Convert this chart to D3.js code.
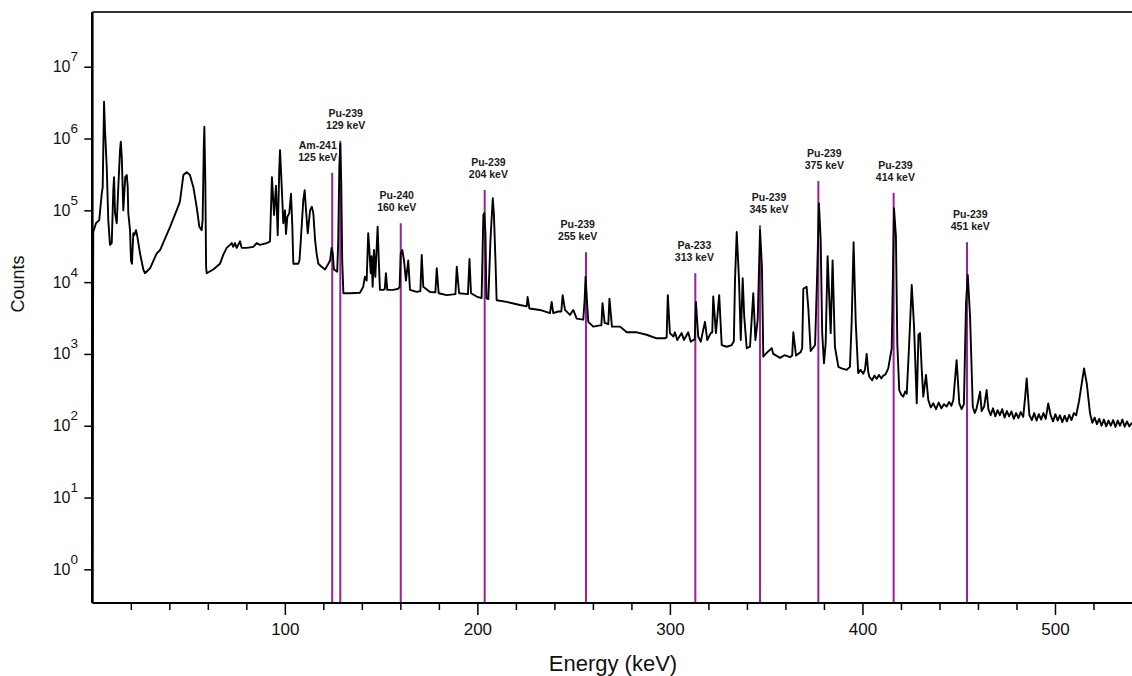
<!DOCTYPE html>
<html>
<head>
<meta charset="utf-8">
<script src="https://cdn.jsdelivr.net/npm/d3@7"></script>
<style>
    body { margin: 0; background: #fff; }
    svg { display: block; }
    .tick line { stroke: #000; stroke-width: 1.5; }
</style>
</head>
<body>
<div id="chart"></div>
<script>
// Gamma spectrum as [energy keV, counts]
var spectrum = [
    [0, 0.35], [0.5, 5.0e4], [1.9, 6.6e4], [3.6, 7.3e4], [4.9, 1.7e5], [5.4, 2.1e5],
    [6.1, 3.25e6], [6.6, 1.3e6], [7.5, 4.0e5], [8.3, 7.3e4], [9.2, 3.3e4], [10.1, 3.5e4],
    [10.9, 1.9e5], [11.3, 2.9e5], [11.8, 9.2e4], [12.7, 6.6e4], [13.5, 2.1e5], [14.4, 6.9e5],
    [14.8, 9.0e5], [15.3, 5.6e5], [16.1, 1.0e5], [17.1, 2.9e5], [17.9, 3.1e5], [18.4, 2.1e5],
    [18.7, 9.1e4], [19.6, 5.3e4], [20.1, 2.0e4], [20.6, 1.8e4], [21.3, 4.8e4], [21.8, 4.5e4],
    [22.7, 5.3e4], [23.4, 4.3e4], [24.8, 2.5e4], [26.5, 1.5e4], [27.4, 1.33e4], [30.0, 1.56e4],
    [33.4, 2.5e4], [35.2, 2.8e4], [40.4, 5.9e4], [43.8, 1.0e5], [45.5, 1.32e5], [47.3, 3.1e5],
    [49.0, 3.4e5], [50.7, 3.1e5], [52.5, 2.1e5], [54.2, 1.12e5], [55.6, 5.9e4], [56.8, 5.3e4],
    [57.3, 7.3e4], [57.9, 7.7e5], [58.2, 1.46e6], [58.7, 2.6e5], [59.1, 1.64e4], [59.4, 1.33e4],
    [62.8, 1.5e4], [66.3, 1.8e4], [68.0, 2.4e4], [69.8, 3.0e4], [71.5, 3.3e4], [72.4, 3.5e4],
    [73.2, 3.1e4], [74.1, 3.5e4], [75.0, 3.0e4], [76.7, 3.7e4], [77.6, 3.0e4], [80.2, 3.0e4],
    [83.6, 3.1e4], [85.4, 3.5e4], [87.1, 3.3e4], [90.6, 3.5e4], [92.3, 3.7e4], [93.3, 2.9e5],
    [94.4, 8.6e4], [95.4, 2.2e5], [96.3, 4.5e4], [97.1, 3.6e5], [97.5, 6.9e5], [98.4, 2.1e5],
    [99.2, 6.6e4], [100.1, 1.0e5], [100.6, 4.7e4], [101.3, 8.1e4], [102.3, 9.1e4], [103.2, 1.7e5],
    [103.9, 5.9e4], [104.4, 1.8e4], [107.0, 1.8e4], [107.6, 2.0e4], [108.2, 3.5e4], [109.6, 1.4e5],
    [110.3, 1.9e5], [111.0, 1.0e5], [111.9, 4.8e4], [113.1, 1.0e5], [114.0, 1.12e5], [114.8, 9.1e4],
    [115.7, 3.9e4], [116.5, 2.5e4], [117.4, 1.8e4], [119.1, 1.64e4], [120.9, 1.5e4], [122.6, 1.8e4],
    [123.5, 2.0e4], [124.3, 3.0e4], [124.9, 2.5e4], [125.5, 1.5e4], [127.2, 1.4e4], [127.7, 3.5e4],
    [128.3, 4.0e5], [128.8, 8.5e5], [129.3, 2.4e5], [129.8, 2.0e4], [130.4, 7.0e3], [133.8, 7.0e3],
    [139.0, 7.1e3], [140.7, 8.6e3], [141.6, 1.19e4], [142.5, 1.05e4], [143.3, 4.8e4], [143.9, 2.8e4],
    [144.6, 1.33e4], [145.1, 2.3e4], [145.6, 8.6e3], [146.3, 2.8e4], [147.0, 1.19e4], [148.2, 5.9e4],
    [148.8, 2.0e4], [149.4, 7.8e3], [151.1, 7.8e3], [151.9, 8.0e3], [152.5, 1.33e4], [153.2, 7.8e3],
    [156.3, 7.8e3], [158.9, 8.1e3], [159.6, 8.5e3], [160.2, 2.5e4], [161.0, 2.8e4], [161.9, 2.0e4],
    [162.9, 1.05e4], [164.1, 2.0e4], [165.0, 7.8e3], [168.5, 7.3e3], [170.4, 7.5e3], [171.1, 2.4e4],
    [171.9, 8.6e3], [175.4, 7.3e3], [178.2, 7.2e3], [178.9, 1.56e4], [179.9, 7.0e3], [184.1, 6.6e3],
    [188.6, 6.8e3], [189.3, 1.64e4], [190.5, 7.0e3], [195.1, 6.8e3], [195.9, 2.1e4], [196.7, 7.0e3],
    [199.6, 6.3e3], [202.2, 6.0e3], [203.1, 8.6e4], [203.6, 9.2e4], [204.2, 4.7e4], [204.7, 6.0e3],
    [205.7, 5.8e3], [206.8, 3.9e4], [208.0, 1.47e5], [208.6, 8.6e4], [209.4, 2.0e4], [210.0, 5.6e3],
    [215.2, 5.3e3], [222.1, 4.8e3], [225.6, 4.6e3], [226.1, 6.2e3], [227.0, 4.3e3], [232.5, 4.1e3],
    [237.7, 3.7e3], [238.6, 5.3e3], [239.4, 3.7e3], [242.0, 3.9e3], [243.6, 3.9e3], [244.3, 6.6e3],
    [245.5, 4.1e3], [248.1, 3.5e3], [249.8, 4.1e3], [251.6, 3.1e3], [255.0, 3.0e3], [255.7, 5.6e3],
    [256.2, 1.19e4], [256.9, 5.6e3], [257.6, 2.8e3], [260.2, 2.4e3], [263.7, 2.5e3], [264.4, 2.5e3],
    [265.0, 5.1e3], [266.1, 2.7e3], [268.0, 2.6e3], [268.6, 5.9e3], [269.9, 2.4e3], [274.1, 2.4e3],
    [277.6, 2.0e3], [282.8, 2.0e3], [287.9, 1.85e3], [293.1, 1.65e3], [297.4, 1.65e3], [298.3, 1.7e3],
    [298.9, 6.6e3], [300.0, 1.95e3], [301.8, 1.75e3], [302.6, 2.0e3], [303.8, 1.56e3], [306.1, 1.95e3],
    [307.3, 1.56e3], [309.5, 2.0e3], [310.8, 1.48e3], [312.1, 1.56e3], [312.9, 1.6e3], [313.5, 5.3e3],
    [314.7, 1.75e3], [316.0, 1.48e3], [318.2, 2.8e3], [319.4, 1.56e3], [321.2, 1.95e3], [322.0, 2.0e3],
    [322.5, 6.3e3], [323.9, 1.95e3], [325.6, 6.6e3], [326.9, 1.33e3], [329.5, 1.26e3], [332.1, 1.33e3],
    [333.2, 1.5e3], [333.8, 1.05e4], [334.7, 5.0e4], [335.9, 1.05e4], [336.8, 1.56e3], [337.8, 1.13e4],
    [338.6, 3.3e3], [339.9, 1.2e3], [341.6, 1.26e3], [343.3, 7.0e3], [344.4, 1.56e3], [345.6, 3.0e3],
    [346.8, 5.3e4], [347.8, 1.64e4], [348.5, 915], [350.5, 1.05e3], [352.9, 1.2e3], [353.7, 1.0e3],
    [355.5, 940], [357.2, 880], [359.5, 960], [362.4, 900], [363.5, 950], [364.1, 2.0e3],
    [365.5, 950], [367.9, 1.06e3], [368.7, 1.2e3], [369.3, 8.1e3], [371.0, 8.6e3], [371.9, 4.3e3],
    [373.1, 1.1e3], [375.4, 1.33e3], [376.5, 1.33e4], [377.4, 1.25e5], [378.3, 3.9e4], [379.1, 1.95e3],
    [380.0, 740], [380.9, 1.4e3], [381.9, 2.3e4], [383.5, 1.95e3], [384.5, 2.0e4], [385.7, 1.26e3],
    [387.5, 660], [389.2, 630], [391.8, 600], [393.5, 660], [394.4, 2.8e3], [395.4, 3.6e4],
    [396.5, 2.8e3], [397.8, 540], [399.0, 600], [400.4, 530], [401.3, 600], [402.2, 1.0e3],
    [403.0, 560], [403.6, 480], [405.0, 430], [406.2, 500], [407.4, 450], [408.6, 510],
    [409.8, 455], [410.8, 500], [412.0, 520], [413.4, 630], [415.2, 1.2e3], [416.4, 1.07e5],
    [417.4, 4.3e4], [418.1, 1.4e3], [419.1, 314], [420.2, 270], [421.2, 254], [422.2, 300],
    [423.0, 280], [424.2, 1.26e3], [425.6, 9.1e3], [426.8, 2.4e3], [428.2, 205], [429.1, 1.85e3],
    [429.9, 1.95e3], [430.8, 600], [431.6, 254], [433.0, 510], [434.2, 228], [435.5, 180],
    [436.8, 205], [438.2, 170], [439.6, 210], [441.0, 175], [442.4, 200], [443.7, 185],
    [445.0, 215], [446.2, 190], [447.2, 228], [448.9, 820], [450.3, 205], [451.5, 170],
    [452.7, 200], [453.8, 5.1e3], [454.7, 1.26e4], [455.9, 3.3e3], [457.3, 184], [458.3, 150],
    [459.3, 175], [461.1, 298], [461.9, 160], [463.2, 185], [464.5, 314], [465.4, 170],
    [466.6, 140], [467.8, 175], [469.0, 135], [470.2, 165], [471.4, 140], [472.6, 170],
    [473.8, 130], [475.0, 160], [476.2, 135], [477.4, 158], [478.6, 125], [479.8, 150],
    [481.0, 128], [482.2, 155], [483.5, 133], [484.5, 250], [485.3, 457], [486.0, 250],
    [486.7, 141], [488.0, 120], [489.2, 150], [490.4, 118], [491.6, 145], [492.8, 122],
    [494.0, 150], [495.2, 125], [496.5, 205], [497.8, 138], [499.0, 115], [500.2, 145],
    [501.4, 118], [502.6, 140], [503.8, 112], [505.0, 138], [506.2, 115], [507.4, 142],
    [508.6, 120], [509.8, 150], [511.0, 140], [512.5, 220], [513.9, 390], [515.1, 630],
    [516.5, 390], [517.5, 220], [518.2, 149], [519.4, 110], [520.6, 130], [521.8, 105],
    [523.0, 125], [524.2, 100], [525.4, 122], [526.6, 98], [527.8, 118], [529.0, 100],
    [530.2, 120], [531.4, 96], [532.6, 118], [533.8, 100], [535.0, 122], [536.2, 97],
    [537.4, 115], [538.6, 98], [540, 110]
];

// Marked lines: nuclide, energy text, where the line sits, how high it reaches, label centre
var nuclides = ['Am-241', 'Pu-239', 'Pu-240', 'Pu-239', 'Pu-239', 'Pa-233', 'Pu-239', 'Pu-239', 'Pu-239', 'Pu-239'];
var lineTexts = ['125 keV', '129 keV', '160 keV', '204 keV', '255 keV', '313 keV', '345 keV', '375 keV', '414 keV', '451 keV'];
var markerEnergy = [124.6, 128.8, 160.2, 203.8, 256.4, 313.2, 346.8, 377.1, 416.2, 454.3];
var markerTop = [3.34e5, 9.3e5, 6.6e4, 1.92e5, 2.6e4, 1.33e4, 6.2e4, 2.56e5, 1.76e5, 3.6e4];
var labelEnergy = [117.1, 131.6, 158.1, 205.7, 252.1, 312.7, 351.5, 380.2, 417.1, 456.0];

var xMajorTicks = [100, 200, 300, 400, 500];
var xMinorTicks = d3.range(20, 540, 20).filter(function (d) { return d % 100 !== 0; });
var yDecades = [0, 1, 2, 3, 4, 5, 6, 7];

var width = 1132;
var height = 676;
var plot = {left: 92.3, right: 1132, top: 12, bottom: 603};

var svg = d3.select('#chart').append('svg')
    .attr('width', width)
    .attr('height', height);

svg.append('rect')
    .attr('width', width)
    .attr('height', height)
    .attr('fill', '#fff');

var x = d3.scaleLinear()
    .domain([0, 540])
    .range([plot.left, plot.right]);

var y = d3.scaleLog()
    .domain([0.34, 5.78e7])
    .range([plot.bottom, plot.top]);

svg.append('defs').append('clipPath')
        .attr('id', 'plot-clip')
    .append('rect')
        .attr('x', plot.left)
        .attr('y', plot.top)
        .attr('width', plot.right - plot.left)
        .attr('height', plot.bottom - plot.top);

/**
 * Purple marker lines running down from under each label to the axis.
 */
function drawMarkers(selection) {
    selection.append('g')
            .attr('class', 'markers')
        .selectAll('line')
            .data(markerEnergy)
        .enter().append('line')
            .attr('x1', function (d) { return x(d); })
            .attr('x2', function (d) { return x(d); })
            .attr('y1', function (d, i) { return y(markerTop[i]); })
            .attr('y2', plot.bottom)
            .attr('stroke', '#9c1f9c')
            .attr('stroke-width', 2);
}

/**
 * Two-line labels (nuclide over energy) above each marker line.
 */
function drawLabels(selection) {
    var labels = selection.append('g')
            .attr('class', 'labels')
            .attr('font-family', '"Liberation Sans", Arial, sans-serif')
            .attr('font-weight', 700)
            .attr('font-size', 10.5)
            .attr('fill', '#1a1a1a')
            .attr('text-anchor', 'middle')
        .selectAll('g')
            .data(nuclides)
        .enter().append('g')
            .attr('transform', function (d, i) {
                return 'translate(' + x(labelEnergy[i]) + ',' + (y(markerTop[i]) - 12) + ')';
            });

    labels.append('text')
        .attr('y', -12)
        .text(function (d) { return d; });

    labels.append('text')
        .attr('y', 0)
        .text(function (d, i) { return lineTexts[i]; });
}

drawMarkers(svg);

svg.append('path')
    .datum(spectrum)
    .attr('clip-path', 'url(#plot-clip)')
    .attr('fill', 'none')
    .attr('stroke', '#000')
    .attr('stroke-width', 1.9)
    .attr('stroke-linejoin', 'round')
    .attr('d', d3.line()
        .x(function (d) { return x(d[0]); })
        .y(function (d) { return y(d[1]); }));

drawLabels(svg);

// x axis: minor ticks every 20 keV, labelled majors every 100 keV
var xMinor = svg.append('g')
    .attr('transform', 'translate(0,' + plot.bottom + ')')
    .call(d3.axisBottom(x).tickValues(xMinorTicks).tickSize(7).tickFormat(''));
xMinor.select('.domain').remove();

var xMajor = svg.append('g')
    .attr('transform', 'translate(0,' + plot.bottom + ')')
    .call(d3.axisBottom(x).tickValues(xMajorTicks).tickSize(12).tickPadding(8));
xMajor.select('.domain').remove();
xMajor.selectAll('text')
    .attr('font-family', '"Liberation Sans", Arial, sans-serif')
    .attr('font-size', 17)
    .attr('fill', '#111');

// y axis: decades, labelled as powers of ten
var yAxis = svg.append('g')
    .attr('transform', 'translate(' + plot.left + ',0)')
    .call(d3.axisLeft(y).tickValues(yDecades.map(function (d) { return Math.pow(10, d); }))
        .tickSize(8).tickFormat(''));
yAxis.select('.domain').remove();

var yLabels = svg.append('g')
        .attr('font-family', '"Liberation Sans", Arial, sans-serif')
        .attr('fill', '#111')
        .attr('text-anchor', 'end')
    .selectAll('text')
        .data(yDecades)
    .enter().append('text')
        .attr('x', 78)
        .attr('y', function (d) { return y(Math.pow(10, d)) + 5.5; })
        .attr('font-size', 16);

yLabels.append('tspan').text('10');
yLabels.append('tspan')
    .attr('font-size', 13.5)
    .attr('dy', -11)
    .text(function (d) { return d; });

// frame
svg.append('line')
    .attr('x1', plot.left).attr('x2', plot.left)
    .attr('y1', plot.top).attr('y2', plot.bottom)
    .attr('stroke', '#000').attr('stroke-width', 2.6);
svg.append('line')
    .attr('x1', plot.left).attr('x2', plot.right)
    .attr('y1', plot.bottom).attr('y2', plot.bottom)
    .attr('stroke', '#000').attr('stroke-width', 1.8);
svg.append('line')
    .attr('x1', plot.left).attr('x2', plot.right)
    .attr('y1', plot.top).attr('y2', plot.top)
    .attr('stroke', '#333').attr('stroke-width', 2);

svg.append('text')
    .attr('x', 613)
    .attr('y', 671)
    .attr('text-anchor', 'middle')
    .attr('font-family', '"Liberation Sans", Arial, sans-serif')
    .attr('font-size', 22)
    .attr('fill', '#111')
    .text('Energy (keV)');

svg.append('text')
    .attr('transform', 'translate(24,284) rotate(-90)')
    .attr('text-anchor', 'middle')
    .attr('font-family', '"Liberation Sans", Arial, sans-serif')
    .attr('font-size', 18)
    .attr('fill', '#111')
    .text('Counts');
</script>
</body>
</html>
